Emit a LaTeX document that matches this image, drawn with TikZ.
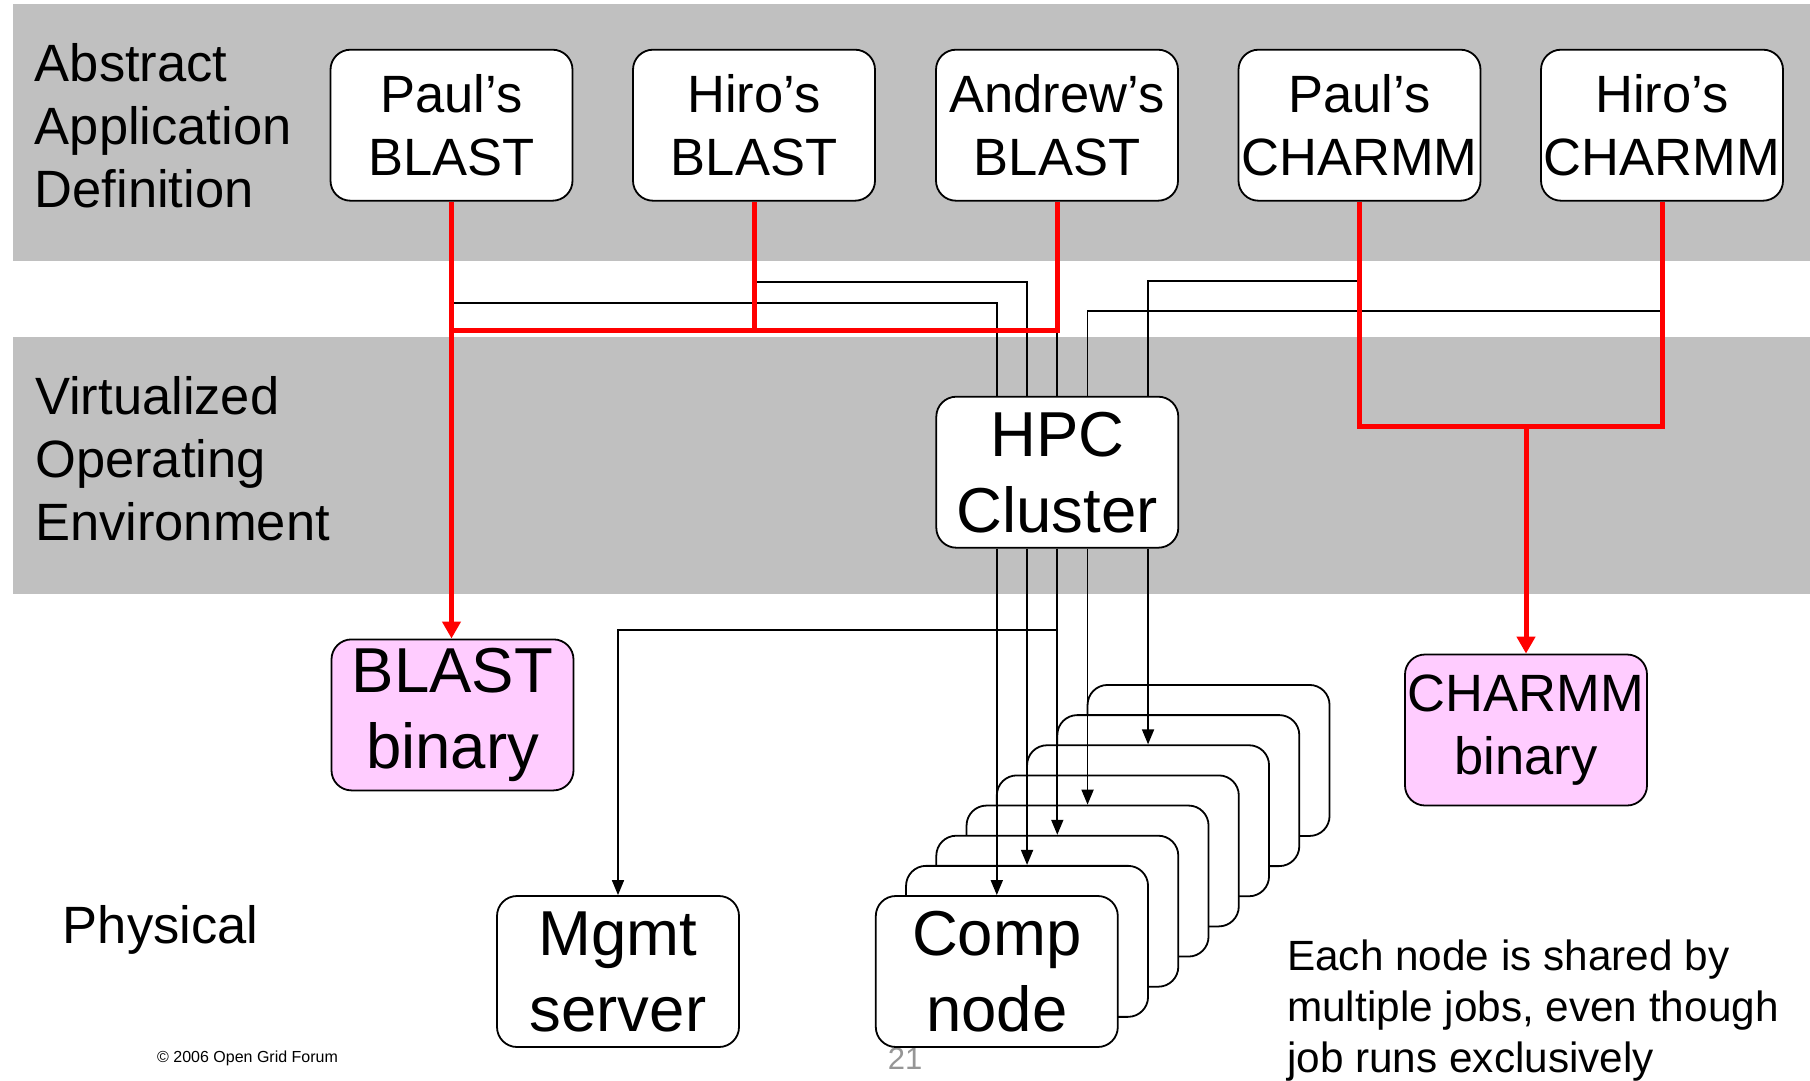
\documentclass[tikz,border=0pt]{standalone}
\usepackage{fontspec}
\setmainfont{Liberation Sans}
\usetikzlibrary{arrows.meta}
\definecolor{bandgray}{RGB}{192,192,192}
\definecolor{binpink}{RGB}{255,204,255}
\definecolor{pagegray}{RGB}{150,150,150}
\definecolor{jobred}{RGB}{255,0,0}
\newcommand\labfont{\fontsize{52.5pt}{63pt}\selectfont}
\newcommand\appfont{\fontsize{52.5pt}{62.5pt}\selectfont}
\newcommand\bigfont{\fontsize{63.5pt}{76pt}\selectfont}
\newcommand\notefont{\fontsize{42.3pt}{51pt}\selectfont}
\newcommand\footfont{\fontsize{16pt}{19pt}\selectfont}
\newcommand\pagefont{\fontsize{31pt}{36pt}\selectfont}

\begin{document}
\begin{tikzpicture}[x=1pt,y=-1pt,
  box/.style={draw, line width=1.8pt, rounded corners=20pt, fill=white,
    minimum width=242pt, minimum height=151pt, inner sep=0pt, align=center},
  appbox/.style={box, font=\appfont},
  sysbox/.style={box, font=\bigfont},
  binbox/.style={box, fill=binpink},
  layerlabel/.style={anchor=base west, align=left, inner sep=0pt, font=\labfont},
  wire/.style={line width=1.7pt, -},
  wirearrow/.style={wire, -{Triangle[length=15pt,width=12pt]}},
  redwire/.style={draw=jobred, line width=5pt, line join=miter},
  redarrow/.style={redwire, -{Triangle[length=17pt,width=18pt]}, fill=jobred}
]
% page frame
\useasboundingbox (0,0) rectangle (1810,1081);

% layer bands
\path[fill=bandgray] (13,4) rectangle (1810,261);
\path[fill=bandgray] (13,337) rectangle (1810,594);

% layer labels (anchored at the baseline of their last line)
\node[layerlabel] (labapp) at (34.6,207) {Abstract\\Application\\Definition};
\node[layerlabel] (labvirt) at (35,540) {Virtualized\\Operating\\Environment};
\node[layerlabel] (labphys) at (62.7,943.3) {Physical};

% application definitions
\node[appbox] (pb) at (451.5,125.2) {Paul’s\\BLAST};
\node[appbox] (hb) at (754,125.2) {Hiro’s\\BLAST};
\node[appbox] (ab) at (1057,125.2) {Andrew’s\\BLAST};
\node[appbox] (pc) at (1359.5,125.2) {Paul’s\\CHARMM};
\node[appbox] (hc) at (1662,125.2) {Hiro’s\\CHARMM};

% virtual environment
\node[sysbox] (hpc) at (1057.3,472.2) {HPC\\Cluster};
\node[binbox, font=\bigfont] (bb) at (452.5,714.9) {BLAST\\binary};
\node[binbox, font=\appfont] (cb) at (1526,730) {CHARMM\\binary};

% footer
\node[anchor=base west, inner sep=0pt, font=\footfont] (copy) at (157,1062.7) {© 2006 Open Grid Forum};
\node[anchor=base, inner sep=0pt, font=\pagefont, text=pagegray] (pnum) at (905,1069) {21};

% physical machines
\node[sysbox] (mgmt) at (618,971.5) {Mgmt\\server};
\foreach \k in {7,6,...,1}
  \node[sysbox] (comp\k) at (996.8+30.25*\k, 971.5-30.15*\k) {};
\node[sysbox] (comp0) at (996.8,971.5) {Comp\\node};

% note (anchored at the baseline of its last line)
\node[anchor=base west, align=left, inner sep=0pt, font=\notefont] (note) at (1287,1072.7)
  {Each node is shared by\\multiple jobs, even though\\job runs exclusively};

% job requests routed to the cluster
\coordinate (jpb) at (comp0.north |- 0,302.7);
\coordinate (jhb) at (comp1.north |- 0,282);
\coordinate (jpc) at (comp5.north |- 0,280.7);
\coordinate (jhc) at (comp3.north |- 0,310.7);
\draw[wire] (pb.south) |- (jpb) -- (jpb |- hpc.north);
\draw[wire] (hb.south) |- (jhb) -- (jhb |- hpc.north);
\draw[wire] (ab.south) -- (ab.south |- hpc.north);
\draw[wire] (pc.south) |- (jpc) -- (jpc |- hpc.north);
\draw[wire] (hc.south) |- (jhc) -- (jhc |- hpc.north);

% cluster dispatch to nodes
\foreach \k in {0,1,2,3,5}
  \draw[wirearrow] (comp\k.north |- hpc.south) -- (comp\k.north);
\coordinate (mj) at (hpc.south |- 0,630);
\draw[wirearrow] (hpc.south) -- (mj) -| (mgmt.north);

% binaries used by each application
\coordinate (rj) at (pb.south |- 0,330);
\coordinate (cj) at (cb.north |- 0,426);
\draw[redwire] (hb.south) |- (rj);
\draw[redwire] (ab.south) |- (rj);
\draw[redarrow] (pb.south) -- (pb.south |- bb.north);
\draw[redwire] (pc.south) |- (cj);
\draw[redwire] (hc.south) |- (cj);
\draw[redarrow] (cj) -- (cb.north);
\end{tikzpicture}
\end{document}
